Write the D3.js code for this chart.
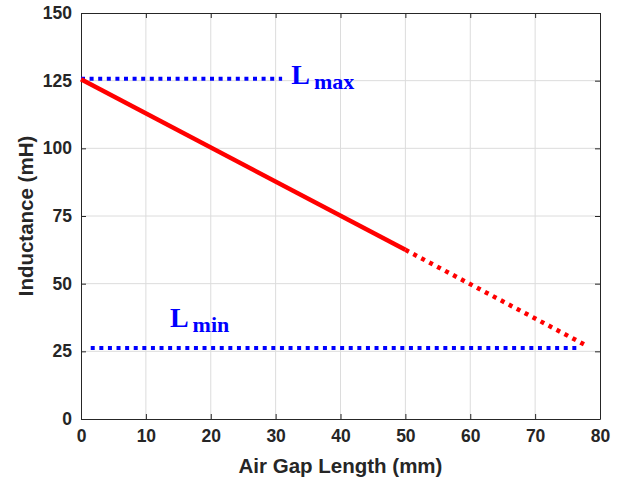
<!DOCTYPE html>
<html>
<head>
<meta charset="utf-8">
<script src="https://cdn.jsdelivr.net/npm/d3@7"></script>
<style>
  html, body { margin: 0; padding: 0; background: #fff; }
  svg { display: block; }
</style>
</head>
<body>
<svg id="chart" width="625" height="479"></svg>
<script>
// Inductance versus air gap length
const xTicks = [0, 10, 20, 30, 40, 50, 60, 70, 80];
const yTicks = [0, 25, 50, 75, 100, 125, 150];

// measured range (solid) and extrapolated range (dotted)
const measuredGap = [0, 50];
const measuredL = [125.5, 62.5];
const extrapGap = [50, 78];
const extrapL = [62.5, 27];

// limit lines
const lmaxGap = [0, 31];
const lmaxL = [125.7, 125.7];
const lminGap = [1.5, 77];
const lminL = [26.2, 26.2];

const labels = [
  { main: "L", sub: "max", gap: 32.4, value: 123.6 },
  { main: "L", sub: "min", gap: 13.7, value: 34.1 }
];

const svg = d3.select("#chart");
const m = { left: 81, right: 600, top: 13, bottom: 419 };
const x = d3.scaleLinear().domain([0, 80]).range([m.left, m.right]);
const y = d3.scaleLinear().domain([0, 150]).range([m.bottom, m.top]);
const axisColor = "#262626";
const font = "Arial, 'Liberation Sans', Helvetica, sans-serif";

// grid
const grid = svg.append("g");
grid.selectAll(".gx").data(xTicks.slice(1, -1)).enter().append("line")
  .attr("x1", d => x(d)).attr("x2", d => x(d))
  .attr("y1", m.top).attr("y2", m.bottom)
  .attr("stroke", "#dcdcdc").attr("stroke-width", 1);
grid.selectAll(".gy").data(yTicks.slice(1, -1)).enter().append("line")
  .attr("y1", d => y(d)).attr("y2", d => y(d))
  .attr("x1", m.left).attr("x2", m.right)
  .attr("stroke", "#dcdcdc").attr("stroke-width", 1);

// axes with inward ticks
const styleAxis = g => {
  g.selectAll("path").attr("stroke", axisColor).attr("stroke-width", 1);
  g.selectAll("line").attr("stroke", axisColor);
  g.selectAll("text").attr("fill", axisColor)
    .attr("font-family", font).attr("font-weight", "bold").attr("font-size", "17.5px");
};
svg.append("g").attr("transform", `translate(0,${m.bottom})`)
  .call(d3.axisBottom(x).tickValues(xTicks).tickSizeInner(-5).tickSizeOuter(0).tickPadding(11))
  .call(styleAxis);
svg.append("g").attr("transform", `translate(0,${m.top})`)
  .call(d3.axisTop(x).tickValues(xTicks).tickSizeInner(-5).tickSizeOuter(0).tickFormat(""))
  .call(styleAxis);
svg.append("g").attr("transform", `translate(${m.left},0)`)
  .call(d3.axisLeft(y).tickValues(yTicks).tickSizeInner(-5).tickSizeOuter(0).tickPadding(9))
  .call(styleAxis);
svg.append("g").attr("transform", `translate(${m.right},0)`)
  .call(d3.axisRight(y).tickValues(yTicks).tickSizeInner(-5).tickSizeOuter(0).tickFormat(""))
  .call(styleAxis);

// axis titles
svg.append("text")
  .attr("x", (m.left + m.right) / 2).attr("y", 473)
  .attr("text-anchor", "middle")
  .attr("font-family", font).attr("font-weight", "bold").attr("font-size", "20.5px")
  .attr("fill", axisColor).text("Air Gap Length (mm)");
svg.append("text")
  .attr("transform", `translate(33,${(m.top + m.bottom) / 2}) rotate(-90)`)
  .attr("text-anchor", "middle")
  .attr("font-family", font).attr("font-weight", "bold").attr("font-size", "20.5px")
  .attr("fill", axisColor).text("Inductance (mH)");

const line = d3.line().x(d => x(d[0])).y(d => y(d[1]));
const plot = svg.append("g");

plot.append("path").datum(d3.zip(lmaxGap, lmaxL)).attr("d", line)
  .attr("fill", "none").attr("stroke", "#0000ff").attr("stroke-width", 4)
  .attr("stroke-dasharray", "4,4.6");
plot.append("path").datum(d3.zip(lminGap, lminL)).attr("d", line)
  .attr("fill", "none").attr("stroke", "#0000ff").attr("stroke-width", 4)
  .attr("stroke-dasharray", "4,4.6");
plot.append("path").datum(d3.zip(measuredGap, measuredL)).attr("d", line)
  .attr("fill", "none").attr("stroke", "#ff0000").attr("stroke-width", 4.5);
plot.append("path").datum(d3.zip(extrapGap, extrapL)).attr("d", line)
  .attr("fill", "none").attr("stroke", "#ff0000").attr("stroke-width", 4.5)
  .attr("stroke-dasharray", "4,5");

// limit labels
labels.forEach(l => {
  const t = svg.append("text")
    .attr("x", x(l.gap)).attr("y", y(l.value))
    .attr("font-family", "'Liberation Serif', 'Times New Roman', serif")
    .attr("font-weight", "bold").attr("fill", "#0000ff");
  t.append("tspan").attr("font-size", "28px").text(l.main);
  t.append("tspan").attr("font-size", "22px").attr("dx", 4).attr("dy", 5).text(l.sub);
});
</script>
</body>
</html>
